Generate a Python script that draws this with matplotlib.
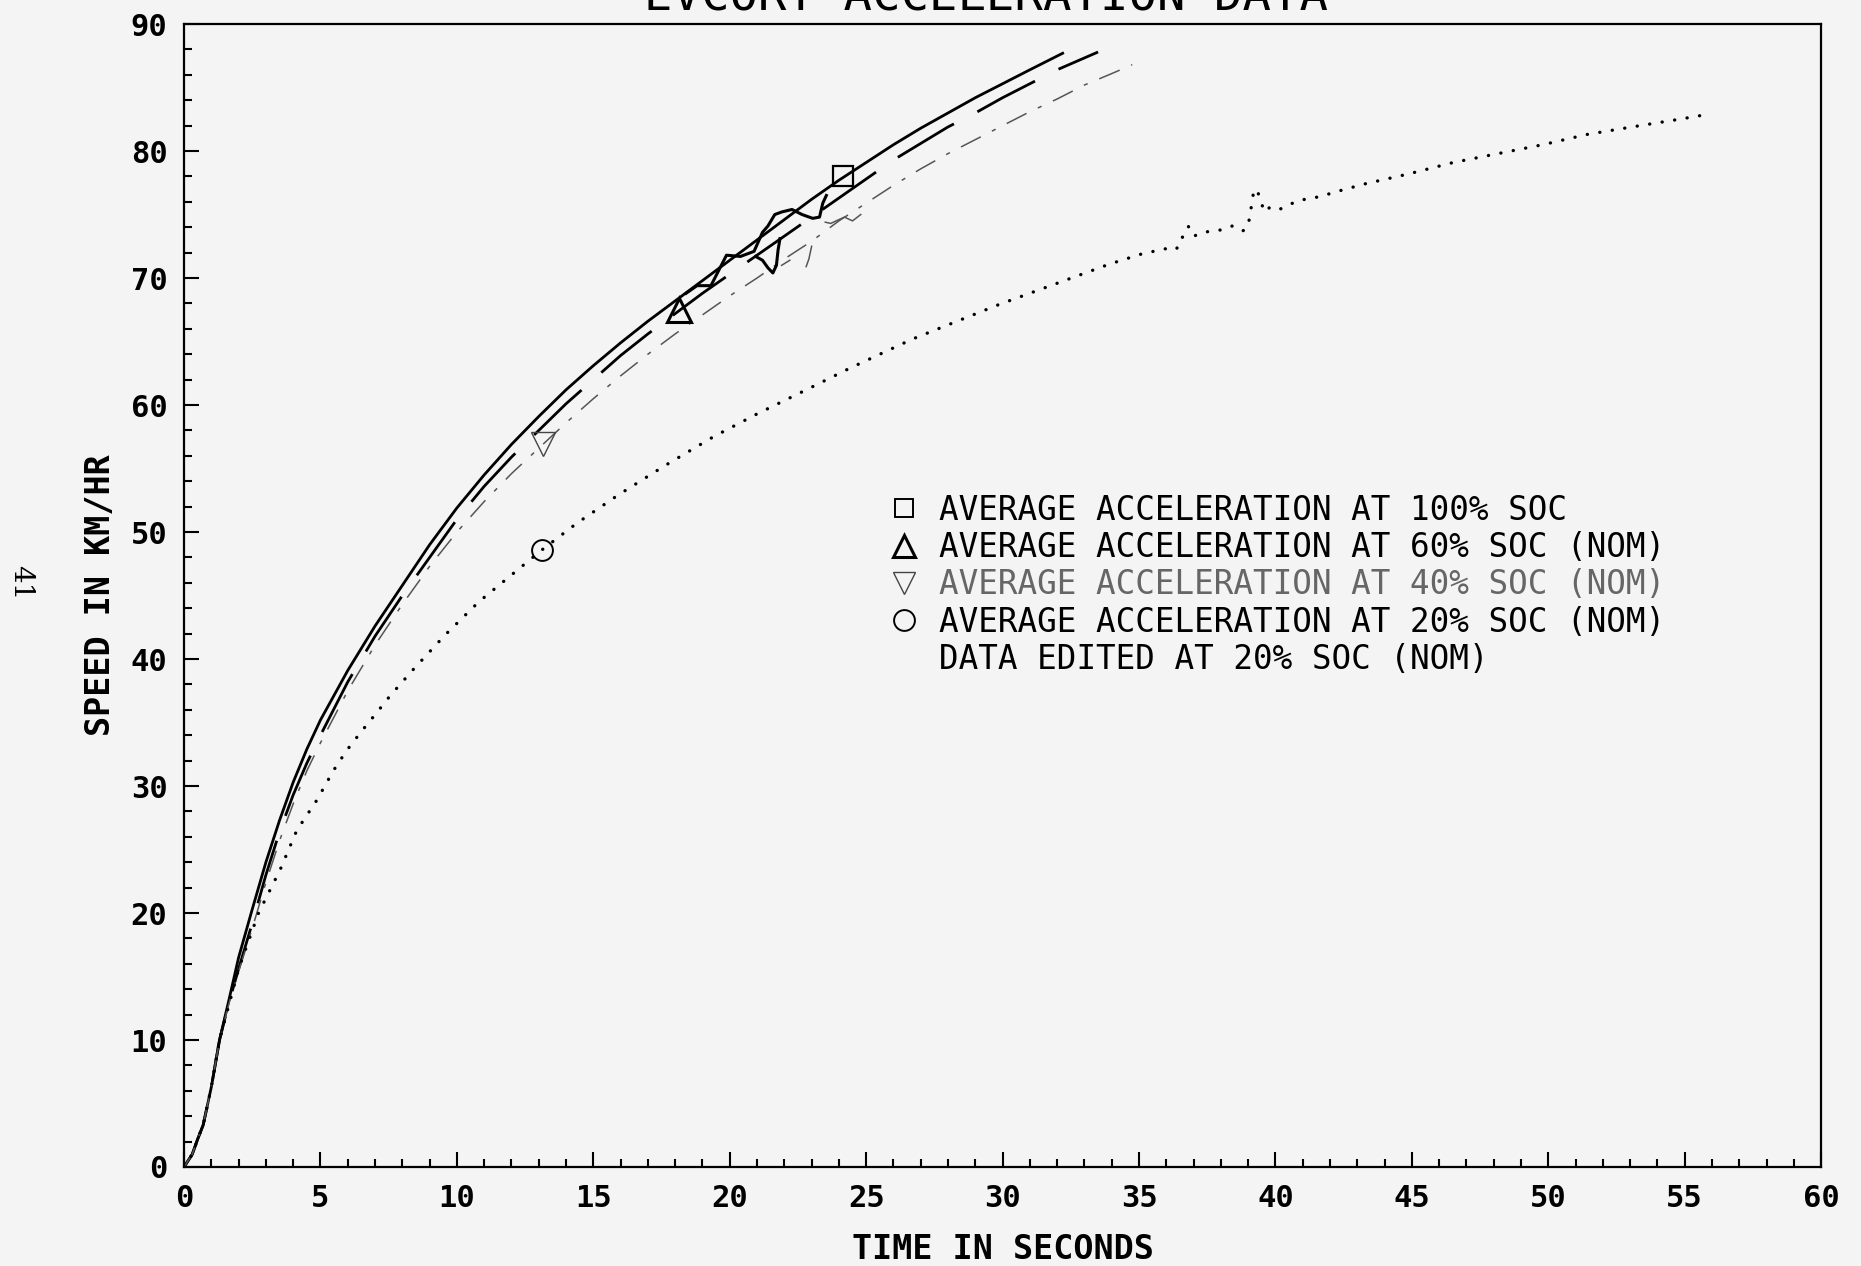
import matplotlib.pyplot as plt
from matplotlib.lines import Line2D

plt.rcParams['font.family'] = 'DejaVu Sans Mono'
plt.rcParams['lines.scale_dashes'] = False

title = 'EVCORT ACCELERATION DATA'

# 100% SOC (solid)
t_100 = [0, 0.3, 0.5, 0.7, 1.0, 1.3, 1.65, 2, 2.5, 3, 3.5, 4, 4.5, 5, 6, 7, 8, 9, 10, 11, 12,
         13, 14, 15, 16, 17, 18, 19, 20, 21, 22, 23, 24, 25, 26, 27, 28, 29, 30, 31, 32.2]
v_100 = [0, 1.0, 2.2, 3.3, 6.3, 10.0, 13.2, 16.5, 20.3, 24.0, 27.3, 30.3, 32.9, 35.2, 39.1,
         42.6, 45.8, 49.0, 51.9, 54.5, 56.9, 59.1, 61.2, 63.1, 64.9, 66.6, 68.2, 69.8, 71.4,
         73.0, 74.6, 76.2, 77.7, 79.1, 80.5, 81.8, 83.0, 84.2, 85.3, 86.4, 87.7]

# 60% SOC (long dash)
t_60 = [0, 0.3, 0.5, 0.7, 1.0, 1.3, 1.65, 2, 2.5, 3, 3.5, 4, 4.5, 5, 6, 7, 8, 9, 10, 11, 12,
        13, 14, 15, 16, 17, 18, 19, 20, 21, 22, 23, 24, 25, 26, 27, 28, 29, 30, 31, 32, 33.5]
v_60 = [0, 1.0, 2.2, 3.3, 6.3, 10.0, 13.0, 15.6, 19.2, 23.0, 26.4, 29.3, 31.8, 34.0, 38.2,
        41.8, 45.0, 48.0, 51.0, 53.6, 55.9, 58.0, 60.1, 62.0, 63.9, 65.6, 67.2, 68.8, 70.3,
        71.8, 73.3, 74.8, 76.3, 77.8, 79.3, 80.6, 81.9, 83.0, 84.2, 85.3, 86.4, 87.8]

# 40% SOC (dash-dot, faint)
t_40 = [0, 0.3, 0.5, 0.7, 1.0, 1.3, 1.65, 2, 2.5, 3, 3.5, 4, 4.5, 5, 6, 7, 8, 9, 10, 11, 12,
        13, 14, 15, 16, 17, 18, 19, 20, 21, 22, 23, 24, 25, 26, 27, 28, 29, 30, 31, 32, 33,
        34, 34.75]
v_40 = [0, 1.0, 2.2, 3.3, 6.3, 10.0, 12.9, 15.4, 18.8, 22.4, 25.7, 28.6, 31.2, 33.4, 37.5,
        41.1, 44.3, 47.3, 50.0, 52.4, 54.6, 56.6, 58.6, 60.5, 62.3, 64.0, 65.6, 67.1, 68.6,
        70.0, 71.5, 72.9, 74.5, 75.9, 77.3, 78.6, 79.8, 80.9, 82.0, 83.1, 84.1, 85.2,
        86.1, 86.8]

# 20% SOC (dotted)
t_20 = [0, 0.3, 0.5, 0.7, 1.0, 1.3, 1.65, 2.0, 2.73, 3.52, 4.13, 4.87, 5.47, 5.96, 6.5, 7.07,
        7.55, 8.41, 9.57, 10.8, 13.12, 14.4, 15.9, 17.6, 19.4, 21.0, 22.9, 24.4, 26.7, 29.85,
        33.92, 35.1, 35.96, 36.32, 36.54, 36.63, 36.81, 37.01, 37.35, 38.04, 38.42, 38.8,
        38.99, 39.07, 39.2, 39.32, 39.45, 39.6, 39.81, 40.14, 40.83, 41.6, 42.4, 43.25,
        44.88, 46.52, 48.16, 49.8, 51.4, 53.07, 54.79, 55.6]
v_20 = [0, 1.0, 2.2, 3.3, 6.3, 10.0, 12.8, 15.6, 20.0, 23.4, 26.5, 28.9, 31.2, 32.8, 34.3, 35.8,
        37.1, 39.2, 41.9, 44.5, 48.6, 50.7, 52.9, 55.2, 57.5, 59.3, 61.3, 62.9, 65.2, 67.9,
        71.1, 71.9, 72.3, 72.2, 72.7, 73.6, 74.05, 73.3, 73.6, 73.8, 74.1, 73.7,
        74.05, 75.0, 76.8, 77.0, 76.1, 75.2, 75.6, 75.4, 76.1, 76.4, 76.9, 77.4,
        78.2, 79.1, 79.8, 80.5, 81.3, 81.9, 82.5, 82.8]

# noisy heavy traces near 19-24 s
wig1_t = [18.4, 18.8, 19.31, 19.88, 20.39, 20.89, 21.2, 21.4, 21.65, 21.9, 22.28, 22.65,
          23.04, 23.29, 23.41, 23.54]
wig1_v = [68.8, 69.4, 69.4, 71.8, 71.7, 72.1, 73.6, 74.1, 75.0, 75.2, 75.4, 75.0,
          74.7, 74.8, 75.9, 76.5]
wig2_t = [20.95, 21.2, 21.4, 21.58, 21.71, 21.77, 21.84]
wig2_v = [71.7, 71.4, 70.8, 70.4, 71.0, 72.2, 73.1]
# faint bits of the 40% trace
wig3_t = [21.9, 22.2, None, 22.8, 22.9, 23.0, None, 23.5, 23.7, 24.2, 24.5, 24.8]
wig3_v = [71.0, 71.4, None, 70.9, 71.5, 72.5, None, 74.4, 74.3, 74.8, 74.5, 75.0]

# average acceleration markers
avg100 = (24.16, 78.0)
avg60 = (18.13, 67.5)
avg40 = (13.17, 56.9)
avg20 = (13.12, 48.6)

legend_labels = ['AVERAGE ACCELERATION AT 100% SOC',
                 'AVERAGE ACCELERATION AT 60% SOC (NOM)',
                 'AVERAGE ACCELERATION AT 40% SOC (NOM)',
                 'AVERAGE ACCELERATION AT 20% SOC (NOM)',
                 'DATA EDITED AT 20% SOC (NOM)']

bg = '#f4f4f4'
fig = plt.figure(figsize=(18.61, 12.66), dpi=100)
fig.patch.set_facecolor(bg)
ax = fig.add_axes([0.0989, 0.0782, 0.8797, 0.9028])
ax.set_facecolor(bg)

ax.plot(t_100, v_100, color='black', lw=2.0)
ax.plot(t_60, v_60, color='black', lw=2.0, dashes=(47, 19))
ax.plot(t_40, v_40, color='#555555', lw=1.1, dashes=(16, 9, 3, 9))
ax.plot(t_20, v_20, color='black', lw=2.4, dashes=(0.1, 9.0), dash_capstyle='round')
ax.plot(wig1_t, wig1_v, color='black', lw=2.2)
ax.plot(wig2_t, wig2_v, color='black', lw=2.2)
ax.plot(wig3_t, wig3_v, color='#555555', lw=1.1)

ax.plot(*avg100, ls='none', marker='s', ms=14, mfc='none', mec='black', mew=1.6)
ax.plot(*avg60, ls='none', marker='^', ms=17, mfc='none', mec='black', mew=2.2)
ax.plot(*avg40, ls='none', marker='v', ms=17, mfc='none', mec='#444444', mew=1.0)
ax.plot(*avg20, ls='none', marker='o', ms=15, mfc='none', mec='black', mew=1.4)

ax.set_xlim(0, 60)
ax.set_ylim(0, 90)
ax.set_xticks(range(0, 61, 5))
ax.set_xticks(range(0, 61), minor=True)
ax.set_yticks(range(0, 91, 10))
ax.set_yticks(range(0, 91, 2), minor=True)
ax.tick_params(which='both', direction='in', width=1.5, top=False, right=False)
ax.tick_params(which='major', length=11, labelsize=22, pad=12)
ax.tick_params(which='minor', length=6)
for lab in ax.get_xticklabels() + ax.get_yticklabels():
    lab.set_fontweight('bold')
for sp in ax.spines.values():
    sp.set_linewidth(1.6)

ax.set_xlabel('TIME IN SECONDS', fontsize=24, fontweight='bold')
ax.set_ylabel('SPEED IN KM/HR', fontsize=24, fontweight='bold')
ax.xaxis.set_label_coords(0.5, -0.058)
ax.yaxis.set_label_coords(-0.041, 0.5)

handles = [Line2D([], [], ls='none', marker='s', ms=13, mfc='none', mec='black', mew=1.4),
           Line2D([], [], ls='none', marker='^', ms=16, mfc='none', mec='black', mew=2.2),
           Line2D([], [], ls='none', marker='v', ms=16, mfc='none', mec='#444444', mew=1.0),
           Line2D([], [], ls='none', marker='o', ms=15, mfc='none', mec='black', mew=1.4),
           Line2D([], [], ls='none')]
leg = ax.legend(handles, legend_labels, loc='upper left', bbox_to_anchor=(0.43, 0.589),
                frameon=False, fontsize=23.5, handlelength=1.0, handletextpad=0.55,
                labelspacing=0.13, borderaxespad=0, borderpad=0)
texts = leg.get_texts()
texts[2].set_color('#666666')

fig.text(0.530, 0.992, title, ha='center', va='baseline', fontsize=34)
fig.text(0.0113, 0.54, '41', rotation=-90, ha='center', va='center', fontsize=20,
         family='DejaVu Serif')

fig.savefig('out.png', dpi=100, facecolor=bg)
